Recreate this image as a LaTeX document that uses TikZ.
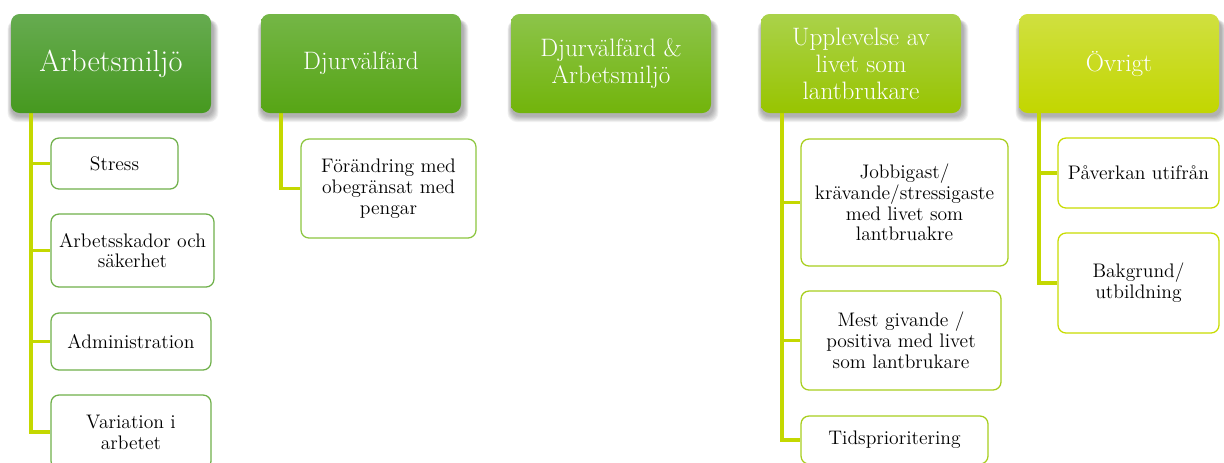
\documentclass[tikz,border=0pt]{standalone}
\usepackage{fontspec}
\usetikzlibrary{backgrounds,calc}
\definecolor{hAt}{HTML}{66AB50}
\definecolor{hAb}{HTML}{46991F}
\definecolor{hBt}{HTML}{74B646}
\definecolor{hBb}{HTML}{57A515}
\definecolor{hCt}{HTML}{8CC44A}
\definecolor{hCb}{HTML}{72B40B}
\definecolor{hDt}{HTML}{AAD24A}
\definecolor{hDb}{HTML}{98C400}
\definecolor{hEt}{HTML}{D0E040}
\definecolor{hEb}{HTML}{C2D600}
\definecolor{bA}{HTML}{6FB04A}
\definecolor{bB}{HTML}{8CC63F}
\definecolor{bD}{HTML}{A8CE1E}
\definecolor{bE}{HTML}{C8DC00}
\definecolor{lineC}{HTML}{C4D800}
\tikzset{
  sz/.style 2 args={minimum width=#1*0.75pt, minimum height=#2*0.75pt},
  head/.style={rounded corners=6.5pt, inner sep=0pt, align=center, text=white,
    font=\rmfamily\fontsize{18.9}{20.2}\selectfont},
  child/.style={rounded corners=6pt, inner sep=0pt, align=center, text=black, fill=white,
    line width=0.95pt, font=\rmfamily\fontsize{14.7}{15.6}\selectfont},
  conn/.style={draw=lineC, line width=2.3pt},
}
\begin{document}
\begin{tikzpicture}[x=0.75pt,y=-0.75pt]
\useasboundingbox (0,0) rectangle (1224,462);

% headers
\node[head, sz={200}{99}, top color=hAt, bottom color=hAb, font=\rmfamily\fontsize{22.8}{24.4}\selectfont] (h1) at (111,63.5) {Arbetsmiljö};
\node[head, sz={200}{99}, top color=hBt, bottom color=hBb] (h2) at (361,63.5) {Djurvälfärd};
\node[head, sz={200}{99}, top color=hCt, bottom color=hCb] (h3) at (611,63.5) {Djurvälfärd \&\\Arbetsmiljö};
\node[head, sz={200}{99}, top color=hDt, bottom color=hDb] (h4) at (861,63.5) {Upplevelse av\\livet som\\lantbrukare};
\node[head, sz={200}{99}, top color=hEt, bottom color=hEb] (h5) at (1119,63.5) {Övrigt};

% shadows
\begin{pgfonlayer}{background}
\foreach \n in {h1,h2,h3,h4,h5}{
  \foreach \i in {1,...,7}{
    \fill[black, opacity=0.05, rounded corners=7pt]
      ($(\n.south west)+(1-\i*0.6,2.5+\i*0.9)$) rectangle ($(\n.north east)+(1.5+\i*0.8,6)$);
  }
}
\end{pgfonlayer}

% children
\node[child, draw=bA, sz={127}{51}] (a1) at (114.5,163.5) {Stress};
\node[child, draw=bA, sz={163}{73}] (a2) at (132.5,250.5) {Arbetsskador och\\säkerhet};
\node[child, draw=bA, sz={160}{57}] (a3) at (131,341.5) {Administration};
\node[child, draw=bA, sz={160}{74}] (a4) at (131,432) {Variation i\\arbetet};

\node[child, draw=bB, sz={175}{99}] (b1) at (388.5,188.5) {Förändring med\\obegränsat med\\pengar};

\node[child, draw=bD, sz={207}{127}] (d1) at (904.5,202.5) {Jobbigast/\\krävande/stressigaste\\med livet som\\lantbruakre};
\node[child, draw=bD, sz={200}{99}] (d2) at (901,340.5) {Mest givande /\\positiva med livet\\som lantbrukare};
\node[child, draw=bD, sz={187}{48}] (d3) at (894.5,440) {Tidsprioritering};

\node[child, draw=bE, sz={161}{70}] (e1) at (1138.5,173) {Påverkan utifrån};
\node[child, draw=bE, sz={161}{100}] (e2) at (1138.5,283) {Bakgrund/\\utbildning};

% connector roots
\coordinate (t1) at (31,113);
\coordinate (t2) at (281,113);
\coordinate (t4) at (782,113);
\coordinate (t5) at (1039,113);

\begin{pgfonlayer}{background}
\draw[conn] (t1) |- (a1.west);
\draw[conn] (t1) |- (a2.west);
\draw[conn] (t1) |- (a3.west);
\draw[conn] (t1) |- (a4.west);
\draw[conn] (t2) |- (b1.west);
\draw[conn] (t4) |- (d1.west);
\draw[conn] (t4) |- (d2.west);
\draw[conn] (t4) |- (d3.west);
\draw[conn] (t5) |- (e1.west);
\draw[conn] (t5) |- (e2.west);
\end{pgfonlayer}
\end{tikzpicture}
\end{document}
